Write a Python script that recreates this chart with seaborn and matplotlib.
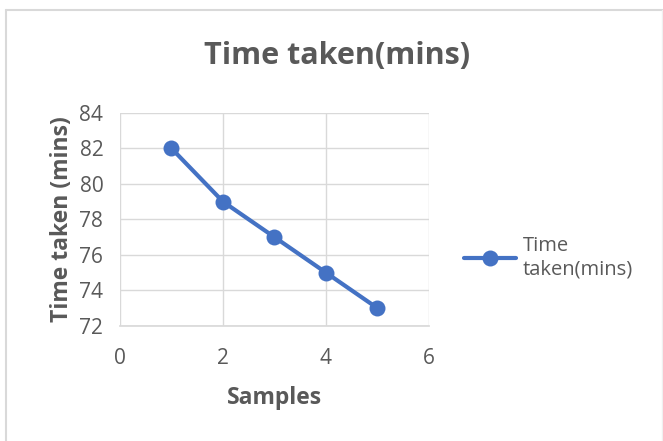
import matplotlib
matplotlib.use("Agg")
import matplotlib.pyplot as plt
import seaborn as sns
import pandas as pd
from matplotlib.lines import Line2D

samples = [1, 2, 3, 4, 5]
time_taken = [82, 79, 77, 75, 73]
x_ticks = [0, 2, 4, 6]
y_ticks = [72, 74, 76, 78, 80, 82, 84]
title = "Time taken(mins)"
series_name = "Time\ntaken(mins)"

sns.set_theme(style="whitegrid")
plt.rcParams['font.family'] = ['Open Sans', 'DejaVu Sans']

df = pd.DataFrame({"Samples": samples, "Time": time_taken})

fig = plt.figure(figsize=(6.63, 4.41), dpi=100)
ax = fig.add_axes([0.181, 0.261, 0.466, 0.483])

blue = "#4472C4"
sns.lineplot(data=df, x="Samples", y="Time", ax=ax, color=blue, linewidth=3,
             marker="o", markersize=11.5, markeredgecolor=blue, markeredgewidth=0)

ax.set_xlim(0, 6)
ax.set_ylim(72, 84)
ax.set_xticks(x_ticks)
ax.set_yticks(y_ticks)
ax.grid(True, color="#D9D9D9", linewidth=1)
for s in ax.spines.values():
    s.set_visible(False)
ax.spines['bottom'].set_visible(True)
ax.spines['bottom'].set_color("#D9D9D9")
ax.tick_params(axis='both', length=0, labelsize=15, labelcolor="#595959")
ax.tick_params(axis='x', pad=16)
ax.tick_params(axis='y', pad=12)
ax.set_xlabel("Samples", fontsize=16.5, fontweight="bold", color="#595959", labelpad=12)
ax.set_ylabel("Time taken (mins)", fontsize=16.5, fontweight="bold", color="#595959", labelpad=4)

fig.text(0.508, 0.872, title, ha="center", va="center", fontsize=22,
         fontweight="bold", color="#595959")

handle = Line2D([0], [0], color=blue, linewidth=3, marker="o", markersize=11.5,
                markeredgewidth=0)
fig.legend([handle], [series_name], loc="center left", bbox_to_anchor=(0.672, 0.415),
           frameon=False, fontsize=14.5, labelcolor="#595959", handlelength=2.6,
           handletextpad=0.35)

# chart border
fig.add_artist(Line2D([0.009, 0.009], [0.0, 0.977], color="#D9D9D9", linewidth=1.5,
                      transform=fig.transFigure))
fig.add_artist(Line2D([0.009, 1.0], [0.977, 0.977], color="#D9D9D9", linewidth=1.5,
                      transform=fig.transFigure))
fig.add_artist(Line2D([0.998, 0.998], [0.0, 0.977], color="#F0F0F0", linewidth=1,
                      transform=fig.transFigure))

fig.savefig("out.png", dpi=100, facecolor="white")
